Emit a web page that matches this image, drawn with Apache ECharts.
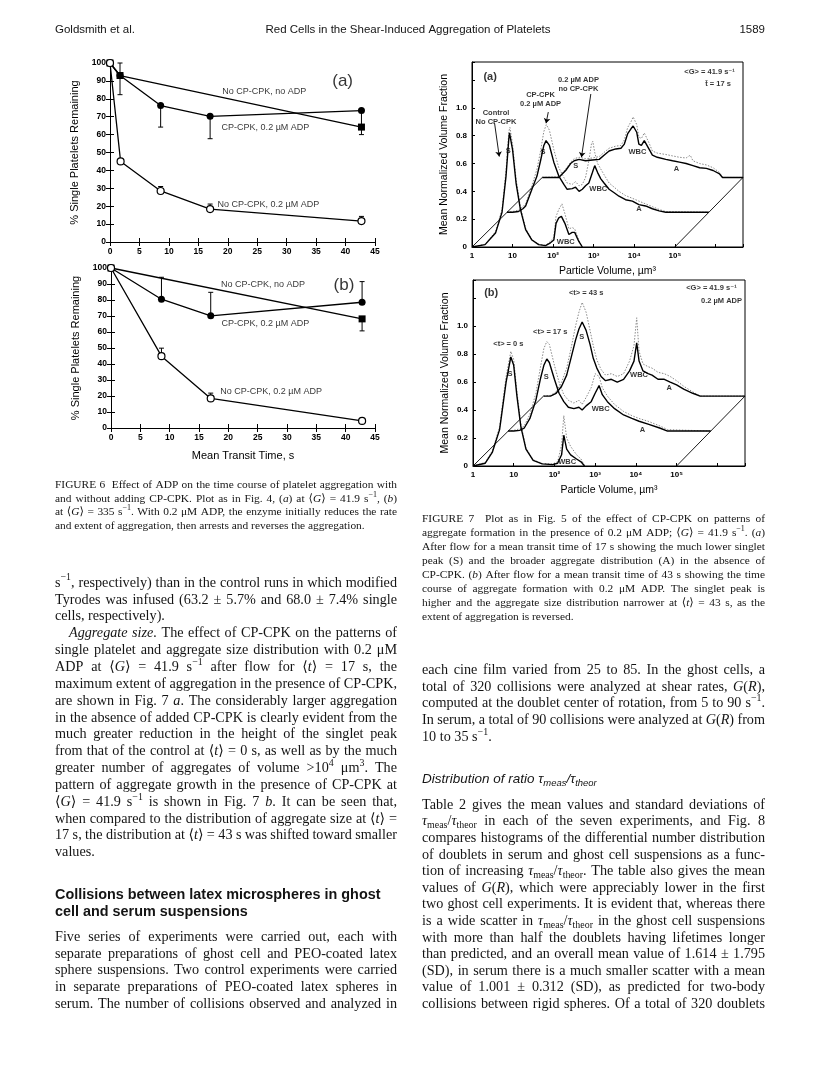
<!DOCTYPE html>
<html>
<head>
<meta charset="utf-8">
<title>Goldsmith et al. 1589</title>
<script src="https://cdn.jsdelivr.net/npm/echarts@6.0.0/dist/echarts.min.js"></script>
<style>
html, body { margin: 0; padding: 0; background: #fff; }
#main { width: 816px; height: 1078px; }
</style>
</head>
<body>
<div id="main"></div>
<script>
/* ---------- Fig 6 data: [mean transit time s, % single platelets] ---------- */
// (a) <G> = 41.9 s-1
var noEnzNoAdpA = [[0, 100], [1.7, 93], [42.7, 64.2]];
var enzAdpA = [[0, 100], [1.7, 93], [8.6, 76.2], [17, 70.2], [42.7, 73.4]];
var noEnzAdpA = [[0, 100], [1.8, 45], [8.6, 28.5], [17, 18.4], [42.7, 11.7]];
var errA = [[1.7, 82.3, 100], [8.6, 64.2, 76.2], [17, 57.7, 70.2], [42.7, 60, 73.4],
            [8.6, 28.5, 31], [17, 18.4, 21.2], [42.7, 11.7, 14.3]];
var notesA = [[26.2, 84, 'No CP-CPK, no ADP'], [26.4, 63.7, 'CP-CPK, 0.2 µM ADP'],
              [26.9, 20.9, 'No CP-CPK, 0.2 µM ADP']];
// (b) <G> = 335 s-1
var noEnzNoAdpB = [[0, 100], [42.8, 68.2]];
var enzAdpB = [[0, 100], [8.6, 80.5], [17, 70.1], [42.8, 78.6]];
var noEnzAdpB = [[0, 100], [8.6, 44.9], [17, 18.5], [42.8, 4.4]];
var errB = [[42.8, 60.7, 68.2], [8.6, 80.5, 94.2], [17, 70.1, 84.8], [42.8, 78.6, 91.5],
            [8.6, 44.9, 49.9], [17, 18.5, 21.8]];
var notesB = [[25.9, 89.4, 'No CP-CPK, no ADP'], [26.3, 65.5, 'CP-CPK, 0.2 µM ADP'],
              [27.3, 22.9, 'No CP-CPK, 0.2 µM ADP']];

/* ---------- Fig 7 data: [particle volume µm3, mean normalized volume fraction] ---------- */
var volMax = 4800000;
// (a)
var ctlA = [[1,0],[2.1,0.017],[3.8,0.1],[5.5,0.25],[6.9,0.51],[8.1,0.78],[8.4,0.82],[10,0.7],[12.2,0.46],[15.6,0.27],[21,0.125],[30,0.05],[44,0.017],[65,0.01],[86,0.03],[104,0.05],[118,0.17],[138,0.21],[160,0.22],[195,0.17],[245,0.09],[295,0.105],[340,0.105],[430,0.04],[525,0]];
var ctlAdot = [[1,0],[2.1,0.02],[3.8,0.11],[5.5,0.27],[6.9,0.55],[8.1,0.83],[8.6,0.86],[10,0.74],[12.2,0.49],[15.6,0.29],[21,0.135],[30,0.055],[44,0.02],[65,0.012],[86,0.04],[104,0.07],[118,0.22],[138,0.27],[165,0.31],[195,0.24],[245,0.13],[295,0.14],[340,0.13],[430,0.05],[525,0]];
var enzA7 = [[7.3,0.25],[10,0.25],[14,0.255],[18,0.275],[21,0.295],[30,0.415],[40,0.51],[49,0.62],[59,0.73],[67,0.765],[81,0.73],[104,0.61],[138,0.51],[184,0.45],[222,0.415],[295,0.42],[357,0.43],[437,0.4],[525,0.415],[630,0.44],[760,0.46],[930,0.535],[1060,0.585],[1250,0.535],[1500,0.49],[1800,0.46],[2400,0.415],[3200,0.39],[4200,0.365],[6100,0.34],[9000,0.33],[13000,0.305],[19000,0.295],[28000,0.275],[41000,0.26],[60000,0.25],[690000,0.25]];
var enzA7dot = [[7.3,0.25],[10,0.255],[14,0.265],[18,0.29],[21,0.31],[30,0.44],[40,0.56],[49,0.69],[59,0.83],[68,0.88],[81,0.84],[104,0.7],[138,0.57],[184,0.5],[222,0.46],[295,0.45],[357,0.47],[437,0.44],[525,0.45],[630,0.5],[760,0.62],[880,0.74],[950,0.76],[1060,0.68],[1250,0.6],[1500,0.56],[1800,0.52],[2400,0.46],[3200,0.43],[4200,0.4],[6100,0.37],[9000,0.35],[13000,0.33],[19000,0.31],[28000,0.29],[41000,0.27],[60000,0.255],[690000,0.25]];
var adpA7 = [[54,0.5],[138,0.5],[204,0.55],[270,0.6],[330,0.62],[437,0.63],[630,0.62],[930,0.625],[1370,0.63],[1800,0.66],[2400,0.69],[3500,0.705],[4700,0.71],[5700,0.74],[6900,0.815],[8300,0.85],[9400,0.87],[11500,0.825],[13000,0.74],[15000,0.73],[17700,0.765],[19000,0.76],[23000,0.705],[28000,0.66],[37000,0.645],[60000,0.63],[88000,0.62],[130000,0.61],[190000,0.6],[280000,0.585],[410000,0.57],[600000,0.565],[880000,0.55],[1270000,0.525],[1500000,0.5],[4800000,0.5]];
var adpA7dot = [[54,0.5],[138,0.505],[204,0.56],[270,0.61],[330,0.635],[437,0.645],[630,0.635],[930,0.64],[1370,0.65],[1800,0.68],[2400,0.71],[3500,0.725],[4700,0.73],[5700,0.77],[6900,0.86],[8300,0.9],[9400,0.935],[11500,0.88],[13000,0.79],[15000,0.78],[17700,0.82],[19000,0.81],[23000,0.75],[28000,0.69],[37000,0.675],[60000,0.665],[88000,0.655],[130000,0.645],[190000,0.64],[240000,0.66],[280000,0.62],[410000,0.6],[600000,0.59],[880000,0.57],[1270000,0.535],[1500000,0.5],[4800000,0.5]];
var notes7a = [[7.8,0.69,'S'],[56,0.68,'S'],[360,0.58,'S'],[205,0.035,'WBC'],[1300,0.415,'WBC'],[12000,0.68,'WBC'],[13000,0.275,'A'],[110000,0.56,'A']];
var tags7a = [[3.9,0.93,'Control\nNo CP-CPK'],[49,1.06,'CP-CPK\n0.2 µM ADP'],[420,1.17,'0.2 µM ADP\nno CP-CPK'],[720000,1.26,'<G> = 41.9 s⁻¹'],[1160000,1.17,'t\u0304 = 17 s']];
var arrows7a = [[[3.6,0.89],[4.7,0.65]], [[76,0.97],[67,0.89]], [[850,1.1],[500,0.645]]];
// (b)
var t0B = [[1,0],[2,0.02],[3,0.1],[4.5,0.26],[6.5,0.6],[8.5,0.78],[10,0.72],[12,0.5],[15,0.28],[20,0.12],[30,0.04],[50,0.015],[90,0.01],[120,0.02],[150,0.08],[170,0.22],[200,0.12],[250,0.08],[350,0.05],[450,0.03],[550,0]];
var t0Bdot = [[1,0],[2,0.025],[3,0.11],[4.5,0.28],[6.5,0.64],[8.5,0.82],[10,0.76],[12,0.53],[15,0.3],[20,0.13],[30,0.045],[50,0.018],[90,0.015],[120,0.03],[150,0.15],[170,0.36],[200,0.2],[250,0.14],[350,0.08],[450,0.05],[550,0]];
var t17B = [[7.3,0.25],[10,0.25],[14,0.255],[18,0.27],[25,0.34],[35,0.47],[45,0.62],[55,0.72],[65,0.765],[75,0.74],[100,0.62],[130,0.52],[170,0.46],[220,0.42],[300,0.41],[400,0.42],[480,0.4],[600,0.43],[800,0.46],[1000,0.52],[1250,0.575],[1500,0.51],[2000,0.46],[3000,0.41],[5000,0.365],[8000,0.34],[12000,0.32],[20000,0.3],[40000,0.27],[60000,0.25],[690000,0.25]];
var t17Bdot = [[7.3,0.25],[10,0.255],[14,0.265],[18,0.285],[25,0.37],[35,0.52],[45,0.7],[55,0.84],[65,0.89],[75,0.87],[100,0.72],[130,0.6],[170,0.51],[220,0.47],[300,0.45],[400,0.47],[480,0.44],[600,0.49],[800,0.56],[1000,0.66],[1250,0.64],[1500,0.56],[2000,0.5],[3000,0.44],[5000,0.39],[8000,0.36],[12000,0.34],[20000,0.32],[40000,0.285],[60000,0.26],[690000,0.25]];
var t43B = [[54,0.5],[80,0.5],[110,0.52],[150,0.57],[200,0.65],[260,0.78],[330,0.9],[400,0.98],[480,1.03],[600,0.97],[750,0.87],[900,0.77],[1100,0.7],[1400,0.64],[1800,0.61],[2500,0.62],[3500,0.6],[5000,0.62],[7000,0.68],[9000,0.75],[10500,0.88],[12000,0.75],[15000,0.68],[20000,0.66],[25000,0.65],[35000,0.62],[50000,0.62],[70000,0.6],[100000,0.58],[150000,0.55],[250000,0.52],[380000,0.5],[4800000,0.5]];
var t43Bdot = [[54,0.5],[80,0.505],[110,0.53],[150,0.6],[200,0.7],[260,0.85],[330,1.0],[400,1.1],[480,1.17],[600,1.1],[750,0.97],[900,0.86],[1100,0.76],[1400,0.69],[1800,0.65],[2500,0.66],[3500,0.64],[5000,0.66],[7000,0.75],[9000,0.86],[10500,1.06],[12000,0.82],[15000,0.73],[20000,0.71],[25000,0.7],[35000,0.67],[50000,0.66],[70000,0.64],[100000,0.61],[150000,0.57],[250000,0.53],[380000,0.5],[4800000,0.5]];
var notes7b = [[8.1,0.66,'S'],[63,0.64,'S'],[470,0.92,'S'],[205,0.03,'WBC'],[1370,0.41,'WBC'],[12000,0.65,'WBC'],[14500,0.255,'A'],[66000,0.56,'A']];
var tags7b = [[7.4,0.87,'<t> = 0 s'],[79,0.96,'<t> = 17 s'],[600,1.24,'<t> = 43 s'],[720000,1.27,'<G> = 41.9 s⁻¹'],[1270000,1.18,'0.2 µM ADP']];
// baselines of the offset distributions
var diagLow = [[1, 0], [54, 0.5]];
var diagHigh = [[100000, 0], [4800000, 0.5]];

/* ---------- page text ---------- */
var headerLeft = 'Goldsmith et al.';
var headerMid = 'Red Cells in the Shear-Induced Aggregation of Platelets';
var headerRight = '1589';
var cap6 = [
  'FIGURE 6  Effect of ADP on the time course of platelet aggregation with',
  'and without adding CP-CPK. Plot as in Fig. 4, ({i|a}) at ⟨{i|G}⟩ = 41.9 s{sup|−1}, ({i|b})',
  'at ⟨{i|G}⟩ = 335 s{sup|−1}. With 0.2 μM ADP, the enzyme initially reduces the rate',
  'and extent of aggregation, then arrests and reverses the aggregation.'
];
var cap7 = [
  'FIGURE 7  Plot as in Fig. 5 of the effect of CP-CPK on patterns of',
  'aggregate formation in the presence of 0.2 μM ADP; ⟨{i|G}⟩ = 41.9 s{sup|−1}. ({i|a})',
  'After flow for a mean transit time of 17 s showing the much lower singlet',
  'peak (S) and the broader aggregate distribution (A) in the absence of',
  'CP-CPK. ({i|b}) After flow for a mean transit time of 43 s showing the time',
  'course of aggregate formation with 0.2 μM ADP. The singlet peak is',
  'higher and the aggregate size distribution narrower at ⟨{i|t}⟩ = 43 s, as the',
  'extent of aggregation is reversed.'
];
var leftA = [
  's{sup|−1}, respectively) than in the control runs in which modified',
  'Tyrodes was infused (63.2 ± 5.7% and 68.0 ± 7.4% single',
  'cells, respectively).'
];
var leftB = [
  '{i|Aggregate} {i|size.} The effect of CP-CPK on the patterns of',
  'single platelet and aggregate size distribution with 0.2 μM',
  'ADP at ⟨{i|G}⟩ = 41.9 s{sup|−1} after flow for ⟨{i|t}⟩ = 17 s, the',
  'maximum extent of aggregation in the presence of CP-CPK,',
  'are shown in Fig. 7 {i|a}. The considerably larger aggregation',
  'in the absence of added CP-CPK is clearly evident from the',
  'much greater reduction in the height of the singlet peak',
  'from that of the control at ⟨{i|t}⟩ = 0 s, as well as by the much',
  'greater number of aggregates of volume >10{sup|4} μm{sup|3}. The',
  'pattern of aggregate growth in the presence of CP-CPK at',
  '⟨{i|G}⟩ = 41.9 s{sup|−1} is shown in Fig. 7 {i|b}. It can be seen that,',
  'when compared to the distribution of aggregate size at ⟨{i|t}⟩ =',
  '17 s, the distribution at ⟨{i|t}⟩ = 43 s was shifted toward smaller',
  'values.'
];
var headingL = ['Collisions between latex microspheres in ghost', 'cell and serum suspensions'];
var leftC = [
  'Five series of experiments were carried out, each with',
  'separate preparations of ghost cell and PEO-coated latex',
  'sphere suspensions. Two control experiments were carried',
  'in separate preparations of PEO-coated latex spheres in',
  'serum. The number of collisions observed and analyzed in'
];
var rightD = [
  'each cine film varied from 25 to 85. In the ghost cells, a',
  'total of 320 collisions were analyzed at shear rates, {i|G}({i|R}),',
  'computed at the doublet center of rotation, from 5 to 90 s{sup|−1}.',
  'In serum, a total of 90 collisions were analyzed at {i|G}({i|R}) from',
  '10 to 35 s{sup|−1}.'
];
var headingR = ['Distribution of ratio τ{sub|meas}/τ{sub|theor}'];
var rightE = [
  'Table 2 gives the mean values and standard deviations of',
  '{i|τ}{sub|meas}/{i|τ}{sub|theor} in each of the seven experiments, and Fig. 8',
  'compares histograms of the differential number distribution',
  'of doublets in serum and ghost cell suspensions as a func-',
  'tion of increasing {i|τ}{sub|meas}/{i|τ}{sub|theor}. The table also gives the mean',
  'values of {i|G}({i|R}), which were appreciably lower in the first',
  'two ghost cell experiments. It is evident that, whereas there',
  'is a wide scatter in {i|τ}{sub|meas}/{i|τ}{sub|theor} in the ghost cell suspensions',
  'with more than half the doublets having lifetimes longer',
  'than predicted, and an overall mean value of 1.614 ± 1.795',
  '(SD), in serum there is a much smaller scatter with a mean',
  'value of 1.001 ± 0.312 (SD), as predicted for two-body',
  'collisions between rigid spheres. Of a total of 320 doublets'
];

var SERIF = '"Liberation Serif", "DejaVu Serif", serif';
var SANS = '"Liberation Sans", "DejaVu Sans", sans-serif';
var INK = '#141414';

/* justified text, set word by word (echarts text has no justify) */
var measure = document.createElement('canvas').getContext('2d');
var SEG = {
  n: {}, i: {italic: true},
  sup: {scale: 0.7, dy: -0.36},
  sub: {scale: 0.7, dy: 0.3}
};
function parseWord(w) {
  var out = [], re = /\{(\w+)\|([^}]*)\}/g, last = 0, m;
  while ((m = re.exec(w))) {
    if (m.index > last) out.push({t: w.slice(last, m.index), s: 'n'});
    out.push({t: m[2], s: m[1]});
    last = re.lastIndex;
  }
  if (last < w.length) out.push({t: w.slice(last), s: 'n'});
  return out;
}
var textEls = [];
function addBlock(b) {
  var fam = b.fam || SERIF;
  measure.font = b.size + 'px ' + fam;
  var space = measure.measureText(' ').width;
  b.lines.forEach(function (line, k) {
    var words = line.split(' ').map(function (w) {
      var segs = parseWord(w), sum = 0;
      segs.forEach(function (sg) {
        var st = SEG[sg.s] || {};
        var it = st.italic || b.italic;
        sg.font = (it ? 'italic ' : '') + (b.bold ? 'bold ' : '') +
                  (b.size * (st.scale || 1)).toFixed(2) + 'px ' + fam;
        sg.dy = (st.dy || 0) * b.size;
        measure.font = sg.font;
        sg.w = measure.measureText(sg.t).width;
        sum += sg.w;
      });
      return {segs: segs, w: sum};
    });
    var x0 = b.x + (k === 0 && b.indent ? b.indent : 0);
    var avail = b.w - (x0 - b.x);
    var total = 0;
    words.forEach(function (wd) { total += wd.w; });
    var isLast = k === b.lines.length - 1;
    var gap = space;
    if (!b.ragged && !(isLast && b.ends) && words.length > 1) {
      gap = Math.max((avail - total) / (words.length - 1), space * 0.45);
    }
    var x = x0, y = b.y + k * b.lh;
    words.forEach(function (wd) {
      wd.segs.forEach(function (sg) {
        if (sg.t) {
          textEls.push({
            type: 'text', x: x, y: y + sg.dy, silent: true,
            style: {text: sg.t, font: sg.font, fill: INK,
                    textVerticalAlign: 'middle', verticalAlign: 'middle'}
          });
        }
        x += sg.w;
      });
      x += gap;
    });
  });
}

var LX = 55, RX = 422, COLW = 342, BODY = 14.2, CAP = 11.4;
addBlock({x: LX, y: 485, w: COLW, lh: 13.7, size: CAP, lines: cap6, ends: true});
addBlock({x: RX, y: 519, w: COLW + 1, lh: 14, size: CAP, lines: cap7, ends: true});
addBlock({x: LX, y: 583, w: COLW, lh: 16.85, size: BODY, lines: leftA, ends: true});
addBlock({x: LX, y: 583 + 3 * 16.85, w: COLW, lh: 16.85, size: BODY, lines: leftB, ends: true, indent: 14});
addBlock({x: LX, y: 895, w: COLW, lh: 17, size: 14.4, lines: headingL, fam: SANS, bold: true, ragged: true});
addBlock({x: LX, y: 937, w: COLW, lh: 16.8, size: BODY, lines: leftC});
addBlock({x: RX, y: 670, w: COLW + 1, lh: 16.8, size: BODY, lines: rightD, ends: true});
addBlock({x: RX, y: 779, w: COLW, lh: 16, size: 13.5, lines: headingR, fam: SANS, italic: true, ragged: true});
addBlock({x: RX, y: 805, w: COLW + 1, lh: 16.6, size: BODY, lines: rightE});
var HFONT = '11.5px ' + SANS;
textEls.push(
  {type: 'text', x: LX, y: 30, silent: true, style: {text: headerLeft, font: HFONT, fill: INK, textVerticalAlign: 'middle', verticalAlign: 'middle'}},
  {type: 'text', x: 408, y: 30, silent: true, style: {text: headerMid, font: HFONT, fill: INK, textAlign: 'center', align: 'center', textVerticalAlign: 'middle', verticalAlign: 'middle'}},
  {type: 'text', x: 765, y: 30, silent: true, style: {text: headerRight, font: HFONT, fill: INK, textAlign: 'right', align: 'right', textVerticalAlign: 'middle', verticalAlign: 'middle'}}
);

/* ---------- axes ---------- */
var black = {color: '#000', width: 1};
function fig6Axes(g, withName) {
  var xs = [{
    gridIndex: g, type: 'value', min: 0, max: 45, interval: 5, position: 'bottom',
    axisLine: {lineStyle: black}, axisTick: {inside: true, length: 4, lineStyle: black},
    axisLabel: {color: '#000', fontSize: 8.5, fontWeight: 'bold', fontFamily: SANS, margin: 5},
    splitLine: {show: false},
    name: withName ? 'Mean Transit Time, s' : '', nameLocation: 'middle', nameGap: 22,
    nameTextStyle: {color: '#000', fontSize: 11, fontFamily: SANS}
  }, {
    gridIndex: g, type: 'value', min: 0, max: 45, interval: 5, position: 'top',
    axisLine: {lineStyle: black}, axisTick: {inside: true, length: 4, lineStyle: black},
    axisLabel: {show: false}, splitLine: {show: false}
  }];
  var ys = [{
    gridIndex: g, type: 'value', min: 0, max: 100, interval: 10, position: 'left',
    axisLine: {lineStyle: black}, axisTick: {inside: true, length: 4, lineStyle: black},
    axisLabel: {color: '#000', fontSize: 8.5, fontWeight: 'bold', fontFamily: SANS, margin: 4},
    splitLine: {show: false},
    name: '% Single Platelets Remaining', nameLocation: 'middle', nameGap: 30,
    nameTextStyle: {color: '#000', fontSize: 11, fontFamily: SANS}
  }, {
    gridIndex: g, type: 'value', min: 0, max: 100, interval: 10, position: 'right',
    axisLine: {lineStyle: black}, axisTick: {inside: true, length: 4, lineStyle: black},
    axisLabel: {show: false}, splitLine: {show: false}
  }];
  return {x: xs, y: ys};
}
var supDigits = {2: '²', 3: '³', 4: '⁴', 5: '⁵'};
function fig7Axes(g) {
  return {
    x: {
      gridIndex: g, type: 'log', logBase: 10, min: 1, max: volMax, splitNumber: 7,
      axisLine: {lineStyle: black}, axisTick: {inside: true, length: 3, lineStyle: black},
      axisLabel: {
        color: '#000', fontSize: 8, fontWeight: 'bold', fontFamily: SANS, margin: 5,
        formatter: function (v) {
          var e = Math.round(Math.log(v) / Math.LN10);
          if (e === 0) return '1';
          if (e === 1) return '10';
          if (e <= 5) return '10' + supDigits[e];
          return '';
        }
      },
      splitLine: {show: false}, minorTick: {show: false},
      name: 'Particle Volume, µm³', nameLocation: 'middle', nameGap: 19,
      nameTextStyle: {color: '#000', fontSize: 10.5, fontFamily: SANS}
    },
    y: {
      gridIndex: g, type: 'value', min: 0, max: 1.33, interval: 0.2,
      axisLine: {lineStyle: black}, axisTick: {inside: true, length: 3, lineStyle: black},
      axisLabel: {
        color: '#000', fontSize: 8, fontWeight: 'bold', fontFamily: SANS, margin: 5,
        formatter: function (v) { return v > 1.05 ? '' : (v === 0 ? '0' : v.toFixed(1)); }
      },
      splitLine: {show: false},
      name: 'Mean Normalized Volume Fraction', nameLocation: 'middle', nameGap: 22,
      nameTextStyle: {color: '#000', fontSize: 10.5, fontFamily: SANS}
    }
  };
}
var a6a = fig6Axes(0, false), a6b = fig6Axes(1, true);
var a7a = fig7Axes(2), a7b = fig7Axes(3);

/* ---------- series helpers ---------- */
function trace(xi, yi, data, sym, filled) {
  return {
    type: 'line', xAxisIndex: xi, yAxisIndex: yi, data: data, z: 3,
    symbol: sym, symbolSize: 7, showSymbol: true,
    lineStyle: {color: '#000', width: 1.3},
    itemStyle: filled ? {color: '#000'} : {color: '#fff', borderColor: '#000', borderWidth: 1.2}
  };
}
function errBars(xi, yi, data) {
  return {
    type: 'custom', xAxisIndex: xi, yAxisIndex: yi, data: data, z: 2,
    renderItem: function (params, api) {
      var lo = api.coord([api.value(0), api.value(1)]);
      var hi = api.coord([api.value(0), api.value(2)]);
      var c = 2.5, ls = {stroke: '#000', lineWidth: 1};
      return {type: 'group', children: [
        {type: 'line', shape: {x1: lo[0], y1: lo[1], x2: hi[0], y2: hi[1]}, style: ls},
        {type: 'line', shape: {x1: lo[0] - c, y1: lo[1], x2: lo[0] + c, y2: lo[1]}, style: ls},
        {type: 'line', shape: {x1: hi[0] - c, y1: hi[1], x2: hi[0] + c, y2: hi[1]}, style: ls}
      ]};
    }
  };
}
function notes(xi, yi, data, size, bold) {
  return {
    type: 'scatter', xAxisIndex: xi, yAxisIndex: yi, data: data, symbolSize: 0, z: 5,
    silent: true,
    label: {show: true, position: 'inside', color: '#000', fontSize: size, lineHeight: size + 1,
            fontFamily: SANS, fontWeight: bold ? 'bold' : 'normal',
            formatter: function (p) { return p.value[2]; }}
  };
}
function curve(xi, yi, data, dotted) {
  return {
    type: 'line', xAxisIndex: xi, yAxisIndex: yi, data: data, symbol: 'none', z: dotted ? 2 : 3,
    lineStyle: dotted ? {color: '#8a8a8a', width: 1, type: [1.5, 1.5]} : {color: '#000', width: 1.4}
  };
}
function thin(xi, yi, data) {
  return {type: 'line', xAxisIndex: xi, yAxisIndex: yi, data: data, symbol: 'none',
          lineStyle: {color: '#000', width: 0.9}, z: 2};
}
function arrows(xi, yi, list) {
  return {
    type: 'lines', coordinateSystem: 'cartesian2d', xAxisIndex: xi, yAxisIndex: yi, z: 4,
    symbol: ['none', 'arrow'], symbolSize: 5,
    lineStyle: {color: '#000', width: 0.9, opacity: 1},
    data: list.map(function (c) { return {coords: c}; })
  };
}

var series = [
  errBars(0, 0, errA),
  trace(0, 0, noEnzNoAdpA, 'rect', true),
  trace(0, 0, enzAdpA, 'circle', true),
  trace(0, 0, noEnzAdpA, 'circle', false),
  notes(0, 0, notesA, 9, false),
  notes(0, 0, [[39.5, 89.8, '(a)']], 17, false),
  errBars(2, 2, errB),
  trace(2, 2, noEnzNoAdpB, 'rect', true),
  trace(2, 2, enzAdpB, 'circle', true),
  trace(2, 2, noEnzAdpB, 'circle', false),
  notes(2, 2, notesB, 9, false),
  notes(2, 2, [[39.7, 89.4, '(b)']], 17, false),

  curve(4, 4, ctlAdot, true), curve(4, 4, enzA7dot, true), curve(4, 4, adpA7dot, true),
  curve(4, 4, ctlA, false), curve(4, 4, enzA7, false), curve(4, 4, adpA7, false),
  thin(4, 4, diagLow), thin(4, 4, diagHigh),
  notes(4, 4, notes7a, 7.5, true), notes(4, 4, tags7a, 7.5, true),
  notes(4, 4, [[2.8, 1.22, '(a)']], 11, true),
  arrows(4, 4, arrows7a),

  curve(5, 5, t0Bdot, true), curve(5, 5, t17Bdot, true), curve(5, 5, t43Bdot, true),
  curve(5, 5, t0B, false), curve(5, 5, t17B, false), curve(5, 5, t43B, false),
  thin(5, 5, diagLow), thin(5, 5, diagHigh),
  notes(5, 5, notes7b, 7.5, true), notes(5, 5, tags7b, 7.5, true),
  notes(5, 5, [[2.8, 1.24, '(b)']], 11, true)
];

var option = {
  backgroundColor: '#fff',
  animation: false,
  grid: [
    {left: 110, top: 63, width: 265, height: 179},
    {left: 111, top: 268, width: 264, height: 160},
    {left: 472, top: 62, width: 271, height: 185, show: true, borderColor: '#000', borderWidth: 1},
    {left: 473, top: 280, width: 272, height: 186, show: true, borderColor: '#000', borderWidth: 1}
  ],
  xAxis: [a6a.x[0], a6a.x[1], a6b.x[0], a6b.x[1], a7a.x, a7b.x],
  yAxis: [a6a.y[0], a6a.y[1], a6b.y[0], a6b.y[1], a7a.y, a7b.y],
  series: series,
  graphic: {elements: textEls}
};

var myChart = echarts.init(document.getElementById('main'));
myChart.setOption(option);
</script>
</body>
</html>
